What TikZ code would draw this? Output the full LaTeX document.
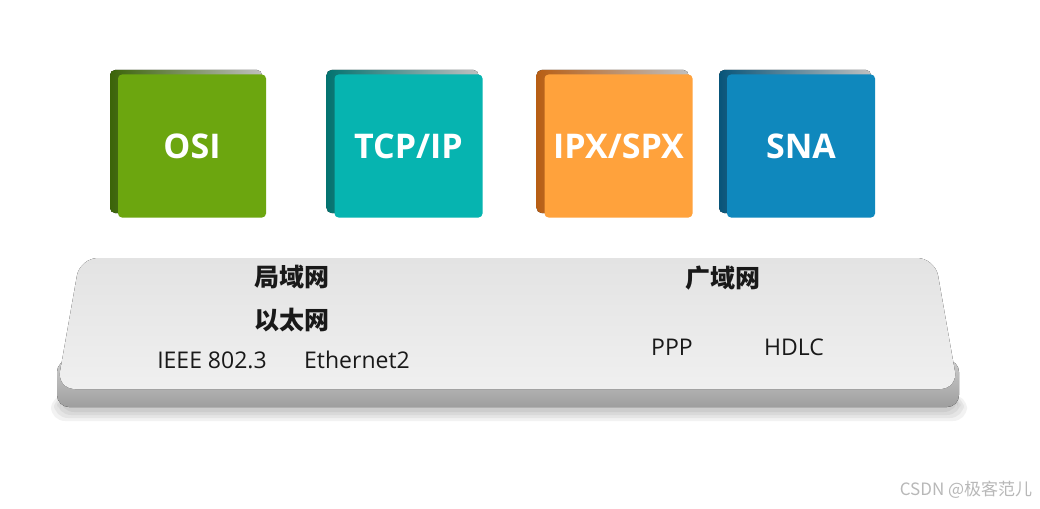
\documentclass[tikz,border=0pt]{standalone}
\usepackage{fontspec}
\setmainfont{Open Sans}
\newfontfamily\cjk{Noto Sans CJK SC}
\usetikzlibrary{calc}
\definecolor{osiC}{HTML}{6CA60F}\definecolor{osiD}{HTML}{3B6408}
\definecolor{tcpC}{HTML}{06B4B0}\definecolor{tcpD}{HTML}{037370}
\definecolor{ipxC}{HTML}{FFA23C}\definecolor{ipxD}{HTML}{B85E14}
\definecolor{snaC}{HTML}{0F88BD}\definecolor{snaD}{HTML}{08557A}
\tikzset{
  proto/.style={minimum width=148pt, minimum height=143pt, rounded corners=4pt,
    inner sep=0pt, text=white, font=\bfseries\fontsize{34}{34}\selectfont},
  lbl/.style={font=\fontsize{23}{23}\selectfont, text=black!90},
  cjklbl/.style={font=\cjk\bfseries\fontsize{25}{25}\selectfont, text=black!90},
}
\begin{document}
\begin{tikzpicture}[x=1pt,y=-1pt]
\useasboundingbox (0,0) rectangle (1040,508);
\fill[white] (0,0) rectangle (1040,508);
% platform shadow
\foreach \i/\o in {0/0.05,3/0.05,6/0.05,9/0.05}{
  \fill[black,opacity=\o,rounded corners=14pt] (60-\i,395) rectangle (958+\i,412+\i);
}
% platform band
\fill[rounded corners=12pt, top color=black!20, bottom color=black!38]
  (57,360) rectangle (959,407);
% platform top face
\fill[rounded corners=18pt, top color=black!11, bottom color=black!6]
  (80,258) -- (935,258) -- (958,389) -- (57,389) -- cycle;
\node[coordinate] (plat) at (508,320) {};
% protocol boxes
\foreach \nm/\cx/\fc/\dc/\tx in {osi/192/osiC/osiD/{OSI}, tcp/408.5/tcpC/tcpD/{TCP/IP}, ipx/618.5/ipxC/ipxD/{IPX/SPX}, sna/801/snaC/snaD/{SNA}}{
  \fill[rounded corners=5pt, left color=\dc, right color=black!25]
    (\cx-82,70) rectangle (\cx+70,213);
  \node[proto, fill=\fc] (\nm) at (\cx,146) {\tx};
}
% labels
\node[cjklbl] (lan) at (292,277) {局域网};
\node[cjklbl] (eth) at (292,320) {以太网};
\node[lbl] (ieee) at (212,360) {IEEE 802.3};
\node[lbl] (eth2) at (357,360) {Ethernet2};
\node[cjklbl] (wan) at (723,278) {广域网};
\node[lbl] (ppp) at (672,347) {PPP};
\node[lbl] (hdlc) at (794,347) {HDLC};
\node[font=\cjk\fontsize{17}{17}\selectfont, text=black!28] (wm) at (966,490) {CSDN @极客范儿};
\end{tikzpicture}
\end{document}
